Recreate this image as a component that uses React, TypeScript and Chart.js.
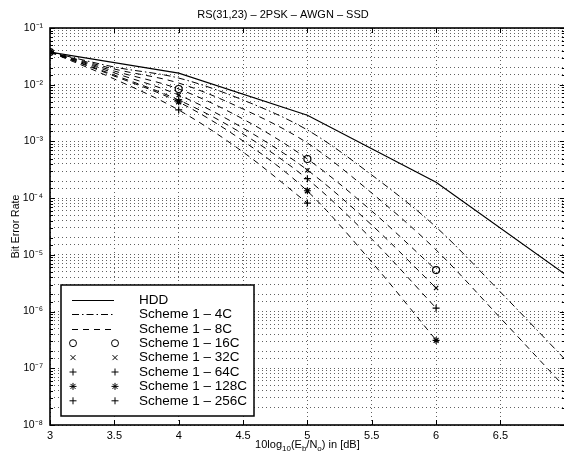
import React, { useEffect, useRef } from 'react';
import { Chart, registerables } from 'chart.js';

Chart.register(...registerables);

const FONT = "'Liberation Sans', Arial, Helvetica, sans-serif";

// ---- data ----
const titleText = 'RS(31,23) – 2PSK – AWGN – SSD';
const yTitleText = 'Bit Error Rate';
const seriesNames = [
  'HDD',
  'Scheme 1 – 4C',
  'Scheme 1 – 8C',
  'Scheme 1 – 16C',
  'Scheme 1 – 32C',
  'Scheme 1 – 64C',
  'Scheme 1 – 128C',
  'Scheme 1 – 256C',
];

const hddX = [3, 4, 5, 6, 7];
const hddBer = [3.77e-2, 1.6e-2, 2.9e-3, 1.9e-4, 4.6e-6];

const curveX = [3, 3.5, 4, 4.5, 5, 5.5, 6, 6.5, 7];
const s4CLine = [3.77e-2, 2.05e-2, 1.31e-2, 5.37e-3, 1.59e-3, 2.56e-4, 3.09e-5, 2.21e-6, 1.45e-7];
const s8CLine = [3.77e-2, 1.89e-2, 1.07e-2, 3.73e-3, 9.37e-4, 1.23e-4, 1.22e-5, 7.68e-7, 4.66e-8];
const s16CLine = [3.77e-2, 1.74e-2, 8.4e-3, 2.48e-3, 4.9e-4, 5.92e-5, 5.4e-6];
const s32CLine = [3.77e-2, 1.61e-2, 6.58e-3, 1.72e-3, 3.13e-4, 3.36e-5, 2.6e-6];
const s64CLine = [3.77e-2, 1.48e-2, 5.37e-3, 1.35e-3, 2.17e-4, 1.9e-5, 1.15e-6];
const s128CLine = [3.77e-2, 1.42e-2, 4.95e-3, 1.02e-3, 1.33e-4, 7.46e-6, 3.14e-7];
const s256CLine = [3.77e-2, 1.26e-2, 3.58e-3, 6.5e-4, 8.2e-5];

const markerX = [3, 4, 5, 6];
const s16C = [3.77e-2, 8.4e-3, 4.9e-4, 5.4e-6];
const s32C = [3.77e-2, 6.6e-3, 3.1e-4, 2.6e-6];
const s64C = [3.77e-2, 5.4e-3, 2.2e-4, 1.15e-6];
const s128C = [3.77e-2, 5.0e-3, 1.35e-4, 3.1e-7];
const s256C = [3.77e-2, 3.6e-3, 8.2e-5];

// legend sample styles, in legend order
const legendKinds = ['solid', 'dashdot', 'dash', 'o', 'x', '+', '*', '+'];

const DASH = [6, 5];
const DASHDOT = [7, 3, 1.5, 3];

const pts = (xs: number[], ys: number[]) => ys.map((y, i) => ({ x: xs[i], y }));

const SUP: Record<string, string> = {
  '-': '⁻', '0': '⁰', '1': '¹', '2': '²', '3': '³', '4': '⁴',
  '5': '⁵', '6': '⁶', '7': '⁷', '8': '⁸', '9': '⁹',
};
const sup = (n: number) => String(n).split('').map((c) => SUP[c] || c).join('');

function drawMarker(ctx: CanvasRenderingContext2D, kind: string, x: number, y: number) {
  ctx.beginPath();
  if (kind === 'o') {
    ctx.arc(x, y, 3.5, 0, Math.PI * 2);
  } else if (kind === 'x') {
    const r = 2.5;
    ctx.moveTo(x - r, y - r); ctx.lineTo(x + r, y + r);
    ctx.moveTo(x - r, y + r); ctx.lineTo(x + r, y - r);
  } else if (kind === '+') {
    const r = 3.5;
    ctx.moveTo(x - r, y); ctx.lineTo(x + r, y);
    ctx.moveTo(x, y - r); ctx.lineTo(x, y + r);
  } else if (kind === '*') {
    const r = 3.5; const d = 2.5;
    ctx.moveTo(x - r, y); ctx.lineTo(x + r, y);
    ctx.moveTo(x, y - r); ctx.lineTo(x, y + r);
    ctx.moveTo(x - d, y - d); ctx.lineTo(x + d, y + d);
    ctx.moveTo(x - d, y + d); ctx.lineTo(x + d, y - d);
  }
  ctx.stroke();
}

const matlabPlugin = {
  id: 'matlabDecor',
  afterDatasetsDraw(chart: any) {
    const { ctx, chartArea: a, scales } = chart;
    const xs = scales.x;
    const ys = scales.y;
    ctx.save();
    ctx.strokeStyle = '#000';
    ctx.lineWidth = 1;
    ctx.setLineDash([]);
    ctx.beginPath();
    xs.ticks.forEach((t: any) => {
      const px = Math.round(xs.getPixelForValue(t.value)) + 0.5;
      ctx.moveTo(px, a.bottom); ctx.lineTo(px, a.bottom - 5);
      ctx.moveTo(px, a.top); ctx.lineTo(px, a.top + 5);
    });
    ys.ticks.forEach((t: any) => {
      const l = Math.log10(t.value);
      const major = Math.abs(l - Math.round(l)) < 1e-6;
      const len = major ? 5 : 3;
      const py = Math.round(ys.getPixelForValue(t.value)) + 0.5;
      ctx.moveTo(a.left, py); ctx.lineTo(a.left + len, py);
      ctx.moveTo(a.right, py); ctx.lineTo(a.right - len, py);
    });
    ctx.stroke();
    ctx.lineWidth = 1.6;
    ctx.strokeRect(a.left, a.top, a.right - a.left, a.bottom - a.top);
    ctx.restore();
  },
  afterDraw(chart: any) {
    const { ctx, chartArea: a } = chart;
    ctx.save();
    // x-axis title with subscripts
    const parts: [string, boolean][] = [
      ['10log', false], ['10', true], ['(E', false], ['b', true],
      ['/N', false], ['o', true], [') in [dB]', false],
    ];
    const mainF = `11px ${FONT}`;
    const subF = `8px ${FONT}`;
    let total = 0;
    parts.forEach(([t, s]) => { ctx.font = s ? subF : mainF; total += ctx.measureText(t).width; });
    let cx = (a.left + a.right) / 2 - total / 2;
    const base = 448;
    ctx.fillStyle = '#000';
    ctx.textBaseline = 'alphabetic';
    ctx.textAlign = 'left';
    parts.forEach(([t, s]) => {
      ctx.font = s ? subF : mainF;
      ctx.fillText(t, cx, s ? base + 3 : base);
      cx += ctx.measureText(t).width;
    });

    // legend box
    const bx = a.left + 11;
    const bw = 193;
    const bh = 131;
    const by = a.bottom - 9 - bh;
    ctx.fillStyle = '#fff';
    ctx.fillRect(bx, by, bw, bh);
    ctx.strokeStyle = '#000';
    ctx.lineWidth = 1.5;
    ctx.strokeRect(bx, by, bw, bh);
    ctx.lineWidth = 1;
    ctx.font = `13.5px ${FONT}`;
    ctx.textBaseline = 'middle';
    seriesNames.forEach((name, i) => {
      const y = by + 15 + i * 14.4;
      const kind = legendKinds[i];
      const x0 = bx + 11;
      const x1 = bx + 53;
      ctx.strokeStyle = '#000';
      if (kind === 'solid' || kind === 'dash' || kind === 'dashdot') {
        ctx.setLineDash(kind === 'solid' ? [] : kind === 'dash' ? DASH : DASHDOT);
        ctx.lineWidth = kind === 'solid' ? 1.2 : 1;
        ctx.beginPath();
        ctx.moveTo(x0, Math.round(y) + 0.5);
        ctx.lineTo(x1, Math.round(y) + 0.5);
        ctx.stroke();
        ctx.setLineDash([]);
      } else {
        ctx.lineWidth = 1;
        drawMarker(ctx, kind, x0 + 1, y);
        drawMarker(ctx, kind, x1 + 1, y);
      }
      ctx.fillStyle = '#000';
      ctx.fillText(name, bx + 78, y);
    });
    ctx.restore();
  },
};

const lineDs = (label: string, xs: number[], ys: number[], dash: number[], width = 1, mono = true) => ({
  label,
  data: pts(xs, ys),
  borderColor: '#000',
  backgroundColor: '#000',
  borderWidth: width,
  borderDash: dash,
  pointRadius: 0,
  pointHitRadius: 0,
  showLine: true,
  fill: false,
  cubicInterpolationMode: mono ? 'monotone' : 'default',
  tension: 0,
});

const markDs = (label: string, ys: number[], style: string, radius: number) => ({
  label,
  data: pts(markerX, ys),
  showLine: false,
  pointStyle: style,
  pointRadius: radius,
  pointBorderColor: '#000',
  pointBackgroundColor: 'rgba(0,0,0,0)',
  pointBorderWidth: 1.2,
  borderColor: '#000',
});

export default function App() {
  const ref = useRef<HTMLCanvasElement>(null);
  useEffect(() => {
    if (!ref.current) return;
    const chart = new Chart(ref.current, {
      type: 'line',
      data: {
        datasets: [
          lineDs(seriesNames[0], hddX, hddBer, [], 1.2, false),
          lineDs(seriesNames[1], curveX, s4CLine, DASHDOT),
          lineDs(seriesNames[2], curveX, s8CLine, DASH),
          lineDs(seriesNames[3] + ' curve', curveX, s16CLine, DASH),
          lineDs(seriesNames[4] + ' curve', curveX, s32CLine, DASH),
          lineDs(seriesNames[5] + ' curve', curveX, s64CLine, DASH),
          lineDs(seriesNames[6] + ' curve', curveX, s128CLine, DASH),
          lineDs(seriesNames[7] + ' curve', curveX, s256CLine, DASH),
          markDs(seriesNames[3], s16C, 'circle', 3.5),
          markDs(seriesNames[4], s32C, 'crossRot', 3),
          markDs(seriesNames[5], s64C, 'cross', 3.5),
          markDs(seriesNames[6], s128C, 'star', 3.5),
          markDs(seriesNames[7], s256C, 'cross', 3.5),
        ] as any,
      },
      options: {
        responsive: false,
        animation: false,
        devicePixelRatio: 1,
        layout: { padding: { left: 0, top: 0, right: 4, bottom: 0 } },
        plugins: {
          legend: { display: false },
          tooltip: { enabled: false },
          title: {
            display: true,
            text: titleText,
            color: '#000',
            font: { family: FONT, size: 11, weight: 'normal' },
            padding: { top: 8, bottom: 6.8 },
          },
        },
        scales: {
          x: {
            type: 'linear',
            min: 3,
            max: 7,
            afterFit: (s: any) => { s.height = 28; },
            grid: { color: '#606060', lineWidth: 1, drawTicks: false },
            border: { display: false, dash: [1, 3] },
            ticks: {
              stepSize: 0.5,
              includeBounds: false,
              padding: 4,
              color: '#000',
              font: { family: FONT, size: 11 },
              maxRotation: 0,
              autoSkip: false,
              callback: (v: any) => (Number(v) >= 7 ? '' : String(Number(v))),
            },
          },
          y: {
            type: 'logarithmic',
            min: 1e-8,
            max: 1e-1,
            afterFit: (s: any) => { s.width = 50; },
            grid: { color: '#606060', lineWidth: 1, drawTicks: false },
            border: { display: false, dash: [1, 3] },
            title: {
              display: true,
              text: yTitleText,
              color: '#000',
              font: { family: FONT, size: 10.5 },
              padding: { top: 10, bottom: 0 },
            },
            ticks: {
              padding: 7,
              color: '#000',
              autoSkip: false,
              font: { family: FONT, size: 10.5 },
              callback: (v: any) => {
                const l = Math.log10(Number(v));
                const r = Math.round(l);
                return Math.abs(l - r) < 1e-6 ? '10' + sup(r) : '';
              },
            },
          },
        },
      } as any,
      plugins: [matlabPlugin],
    });
    return () => chart.destroy();
  }, []);

  return (
    <div style={{ position: 'fixed', left: 0, top: 0, width: 564, height: 453, overflow: 'hidden', background: '#fff' }}>
      <div style={{ width: 570, height: 453 }}>
        <canvas ref={ref} width={570} height={453} style={{ display: 'block', width: 570, height: 453 }} />
      </div>
    </div>
  );
}
